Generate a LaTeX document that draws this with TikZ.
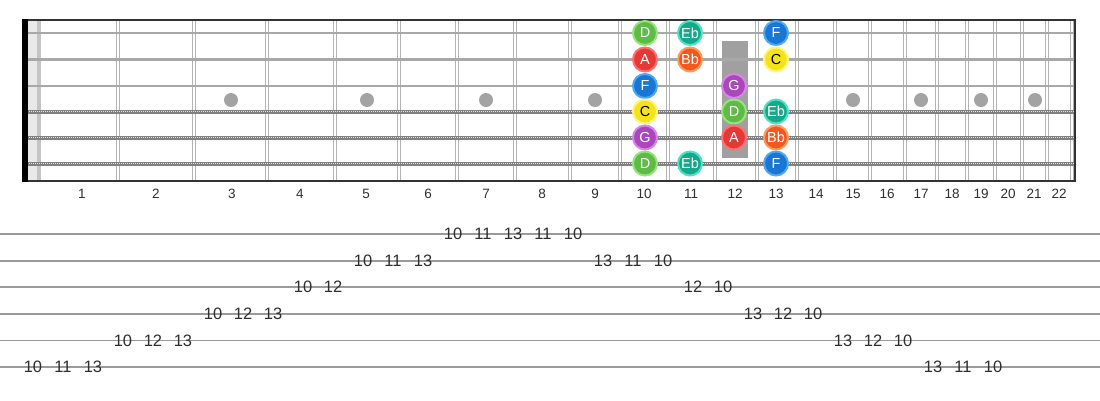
\documentclass[tikz,border=0pt]{standalone}
\usepackage{fontspec}
\setmainfont{Liberation Sans}
\definecolor{fretgray}{HTML}{B4B4B4}
\definecolor{strgray}{HTML}{A8A8A8}
\definecolor{woundgray}{HTML}{808080}
\definecolor{dotgray}{HTML}{A3A3A3}
\definecolor{boardline}{HTML}{333333}
\definecolor{txtgray}{HTML}{2E2E2E}
\definecolor{tabline}{HTML}{9A9A9A}
\definecolor{nutlight}{HTML}{E9E9E9}
\definecolor{nutdark}{HTML}{C4C4C4}
\definecolor{markgray}{HTML}{A0A0A0}
\definecolor{cD}{HTML}{5DBB46}\definecolor{rD}{HTML}{95E37C}
\definecolor{cEb}{HTML}{16A88A}\definecolor{rEb}{HTML}{52E0C2}
\definecolor{cF}{HTML}{1976D2}\definecolor{rF}{HTML}{4FA8F5}
\definecolor{cA}{HTML}{E53935}\definecolor{rA}{HTML}{FF7070}
\definecolor{cBb}{HTML}{F0581E}\definecolor{rBb}{HTML}{FF9A5E}
\definecolor{cC}{HTML}{F5E31A}\definecolor{rC}{HTML}{FFF480}
\definecolor{cG}{HTML}{AA47BC}\definecolor{rG}{HTML}{D884E8}
\begin{document}
\begin{tikzpicture}[x=1pt,y=-1pt,
  fretline/.style={draw=fretgray, line width=1.2pt},
  plainstring/.style={draw=strgray, line width=2.8pt},
  woundbase/.style={draw=woundgray, line width=4pt},
  woundover/.style={draw=white!80!gray, line width=1.8pt, dash pattern=on 1pt off 1pt},
  inlay/.style={circle, fill=dotgray, minimum size=14pt, inner sep=0pt},
  note/.style={circle, minimum size=24pt, inner sep=0pt, line width=2pt,
    font=\fontsize{14.5}{15}\selectfont, text=white},
  fretnum/.style={font=\fontsize{13.5}{14}\selectfont, text=txtgray},
  tabnum/.style={font=\fontsize{16.5}{17}\selectfont, text=txtgray},
  tabstring/.style={draw=tabline, line width=1.8pt}]
\useasboundingbox (0,0) rectangle (1100,400);
% nut area
\fill[nutlight] (28,20) rectangle (37,181);
\fill[nutdark] (37,20) rectangle (41,181);
% frets (double lines)
\foreach \fx [count=\k] in {118,194,267,335,399,457,515,570,620,668,715,757,797,835,870,905,937,967,995,1022,1047,1072}{
  \draw[fretline] (\fx-1.6,20) -- (\fx-1.6,181);
  \draw[fretline] (\fx+1.6,20) -- (\fx+1.6,181);
}
% 12th fret marker
\fill[markgray] (722,41) rectangle (748,158);
% inlay dots
\foreach \dx [count=\k] in {231,367,486,595,853,921,981,1035}{
  \node[inlay] (dot\k) at (\dx,100) {};
}
% strings
\foreach \sy [count=\k] in {33,59.5,86}{
  \draw[plainstring] (23,\sy) coordinate (sL\k) -- (1075,\sy) coordinate (sR\k);
}
\foreach \sy [count=\k from 4] in {111.5,137.5,163.5}{
  \draw[woundbase] (23,\sy) coordinate (sL\k) -- (1075,\sy) coordinate (sR\k);
  \draw[woundover] (sL\k) -- (sR\k);
}
% board border
\draw[boardline, line width=2pt] (23,20) -- (1075,20);
\draw[boardline, line width=2pt] (23,181) -- (1075,181);
\draw[boardline, line width=1.6pt] (1075,19) -- (1075,182);
\fill[black] (22,19) rectangle (28,182);
% fret numbers
\foreach \lx [count=\k] in {82,156,232,300,366,428,486,542,595,644,691,735,776,816,853,887,921,952,981,1008,1034,1059}{
  \node[fretnum] (fn\k) at (\lx,194) {\k};
}
% notes
\newcommand{\nt}[4]{\node[note, fill=c#3, draw=r#3, #4] (n#1) at #2 {#3};}
\nt{1a}{(645,33)}{D}{}
\nt{1b}{(690,33)}{Eb}{}
\nt{1c}{(776,33)}{F}{}
\nt{2a}{(645,59.5)}{A}{}
\nt{2b}{(690,59.5)}{Bb}{}
\nt{2c}{(776,59.5)}{C}{text=black}
\nt{3a}{(645,86)}{F}{}
\nt{3b}{(734,86)}{G}{}
\nt{4a}{(645,111.5)}{C}{text=black}
\nt{4b}{(734,111.5)}{D}{}
\nt{4c}{(776,111.5)}{Eb}{}
\nt{5a}{(645,137.5)}{G}{}
\nt{5b}{(734,137.5)}{A}{}
\nt{5c}{(776,137.5)}{Bb}{}
\nt{6a}{(645,163.5)}{D}{}
\nt{6b}{(690,163.5)}{Eb}{}
\nt{6c}{(776,163.5)}{F}{}
% tab lines
\foreach \ty [count=\k] in {234,260.6,287.2,313.8,340.4,367}{
  \draw[tabstring] (0,\ty) coordinate (tL\k) -- (1100,\ty) coordinate (tR\k);
}
% tab numbers
\foreach \x/\v [count=\k] in {453/10,483/11,513/13,543/11,573/10}{
  \node[tabnum] (ta\k) at (\x,234) {\v};}
\foreach \x/\v [count=\k] in {363/10,393/11,423/13,603/13,633/11,663/10}{
  \node[tabnum] (tb\k) at (\x,260.6) {\v};}
\foreach \x/\v [count=\k] in {303/10,333/12,693/12,723/10}{
  \node[tabnum] (tc\k) at (\x,287.2) {\v};}
\foreach \x/\v [count=\k] in {213/10,243/12,273/13,753/13,783/12,813/10}{
  \node[tabnum] (td\k) at (\x,313.8) {\v};}
\foreach \x/\v [count=\k] in {123/10,153/12,183/13,843/13,873/12,903/10}{
  \node[tabnum] (te\k) at (\x,340.4) {\v};}
\foreach \x/\v [count=\k] in {33/10,63/11,93/13,933/13,963/11,993/10}{
  \node[tabnum] (tf\k) at (\x,367) {\v};}
\end{tikzpicture}
\end{document}
